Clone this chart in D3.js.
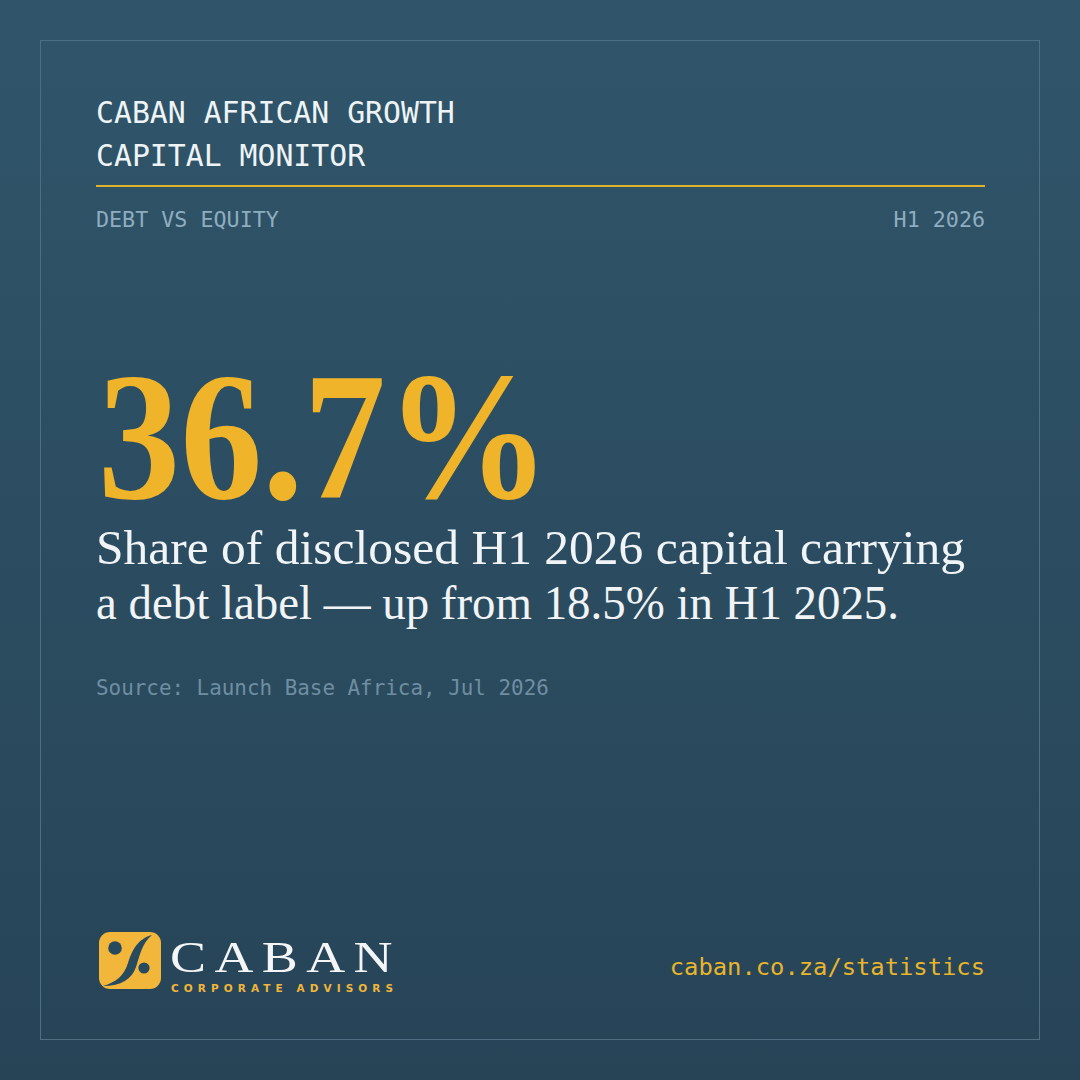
<!DOCTYPE html>
<html>
<head>
<meta charset="utf-8">
<script src="https://cdn.jsdelivr.net/npm/d3@7"></script>
<style>
  html, body { margin: 0; padding: 0; background: #2b4c5f; }
  svg { display: block; }
</style>
</head>
<body>
<main></main>
<script>
// figures shown on the card
const titleLines = ["CABAN AFRICAN GROWTH", "CAPITAL MONITOR"];
const topicLabel = ["DEBT VS EQUITY"];
const periodLabel = ["H1 2026"];
const headlineValue = [36.7];
const priorValue = [18.5];
const priorPeriod = ["H1 2025"];
const sourceNote = ["Source: Launch Base Africa, Jul 2026"];
const footerUrl = ["caban.co.za/statistics"];

var width = 1080;
var height = 1080;

const mono = "'DejaVu Sans Mono', 'Liberation Mono', monospace";
const serif = "'Liberation Serif', 'DejaVu Serif', serif";
const gold = "#f0b42a";

var svg = d3.select("main")
  .append("svg")
  .attr("width", width)
  .attr("height", height);

// background gradient
const defs = svg.append("defs");
const grad = defs.append("linearGradient")
  .attr("id", "bg")
  .attr("x1", 0).attr("y1", 0).attr("x2", 0).attr("y2", 1);
grad.append("stop").attr("offset", "0%").attr("stop-color", "#30556a");
grad.append("stop").attr("offset", "100%").attr("stop-color", "#274457");

svg.append("rect")
  .attr("width", width)
  .attr("height", height)
  .attr("fill", "url(#bg)");

// thin frame
svg.append("rect")
  .attr("x", 40.5).attr("y", 40.5)
  .attr("width", 999).attr("height", 999)
  .attr("fill", "none")
  .attr("stroke", "#4d6f84")
  .attr("stroke-width", 1);

// fit a text element to a target width
function fit(sel, w, mode) {
  sel.attr("textLength", w).attr("lengthAdjust", mode || "spacingAndGlyphs");
}

// title
svg.selectAll(".title")
  .data(titleLines)
  .enter()
  .append("text")
  .attr("class", "title")
  .attr("x", 96)
  .attr("y", (d, i) => 123 + i * 43)
  .attr("font-family", mono)
  .attr("font-size", 29.8)
  .attr("fill", "#eef3f6")
  .text(d => d);

svg.append("line")
  .attr("x1", 96).attr("x2", 985)
  .attr("y1", 186).attr("y2", 186)
  .attr("stroke", "#e0b22c")
  .attr("stroke-width", 2);

svg.append("text")
  .attr("x", 96).attr("y", 227)
  .attr("font-family", mono)
  .attr("font-size", 21.7)
  .attr("fill", "#8eadc0")
  .text(topicLabel[0]);

svg.append("text")
  .attr("x", 985).attr("y", 227)
  .attr("text-anchor", "end")
  .attr("font-family", mono)
  .attr("font-size", 21.7)
  .attr("fill", "#8eadc0")
  .text(periodLabel[0]);

// headline number
const pct = d3.format(".1f");
svg.append("text")
  .attr("x", 98).attr("y", 498)
  .attr("font-family", serif)
  .attr("font-weight", "bold")
  .attr("font-size", 182)
  .attr("fill", gold)
  .text(pct(headlineValue[0]) + "%")
  .call(fit, 452);

// description
const desc = [
  "Share of disclosed " + periodLabel[0] + " capital carrying",
  "a debt label \u2014 up from " + pct(priorValue[0]) + "% in " + priorPeriod[0] + "."
];
const descWidths = [869, 803];
svg.selectAll(".desc")
  .data(desc)
  .enter()
  .append("text")
  .attr("class", "desc")
  .attr("x", 96)
  .attr("y", (d, i) => 564 + i * 55)
  .attr("font-family", serif)
  .attr("font-size", 48)
  .attr("fill", "#f1f4f6")
  .text(d => d)
  .each(function (d, i) { fit(d3.select(this), descWidths[i]); });

svg.append("text")
  .attr("x", 96).attr("y", 695)
  .attr("font-family", mono)
  .attr("font-size", 20.9)
  .attr("fill", "#6f8ea2")
  .text(sourceNote[0]);

// footer url
svg.append("text")
  .attr("x", 985).attr("y", 975)
  .attr("text-anchor", "end")
  .attr("font-family", mono)
  .attr("font-size", 23.8)
  .attr("fill", "#e9b52b")
  .text(footerUrl[0]);

// logo
const logo = svg.append("g").attr("id", "logo");
logo.append("rect")
  .attr("x", 99).attr("y", 932)
  .attr("width", 62).attr("height", 57)
  .attr("rx", 11)
  .attr("fill", "#f2b63b");
logo.append("circle").attr("cx", 115).attr("cy", 948).attr("r", 6.8).attr("fill", "#284a5e");
logo.append("circle").attr("cx", 144).attr("cy", 968).attr("r", 5.6).attr("fill", "#284a5e");
logo.append("path")
  .attr("d", "M152,935 C137,939 132,951 128,963 C124,976 116,982 103,986 C121,986 132,979 136,967 C140,955 142,943 152,935 Z")
  .attr("fill", "#284a5e");

// wordmark: slightly widened serif caps
logo.append("g")
  .attr("transform", "translate(170,972) scale(1.2,1)")
  .append("text")
  .attr("x", 0).attr("y", 0)
  .attr("font-family", serif)
  .attr("font-size", 45)
  .attr("letter-spacing", 7)
  .attr("fill", "#f3f5f6")
  .text("CABAN");

logo.append("text")
  .attr("x", 171).attr("y", 992)
  .attr("font-family", "'DejaVu Sans', sans-serif")
  .attr("font-weight", "bold")
  .attr("font-size", 10.5)
  .attr("fill", "#f0b63b")
  .text("CORPORATE ADVISORS")
  .call(fit, 222, "spacing");
</script>
</body>
</html>
